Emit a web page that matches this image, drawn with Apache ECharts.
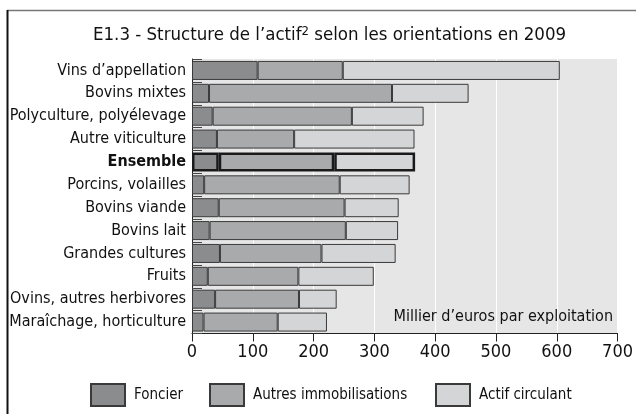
<!DOCTYPE html>
<html>
<head>
<meta charset="utf-8">
<script src="https://cdn.jsdelivr.net/npm/echarts@6/dist/echarts.min.js"></script>
<style>
html,body{margin:0;padding:0;background:#fff;}
#c{width:636px;height:414px;}
</style>
</head>
<body>
<div id="c"></div>
<script>
var categories = ["Vins d’appellation","Bovins mixtes","Polyculture, polyélevage","Autre viticulture","Ensemble","Porcins, volailles","Bovins viande","Bovins lait","Grandes cultures","Fruits","Ovins, autres herbivores","Maraîchage, horticulture"];
var foncier = [108, 28, 34, 41, 44, 20, 44, 29, 46, 26, 38, 19];
var autres = [140, 301, 229, 127, 190, 223, 207, 224, 167, 149, 138, 122];
var actif = [357, 126, 118, 198, 133, 115, 89, 86, 122, 124, 62, 81];
var seriesNames = ["Foncier","Autres immobilisations","Actif circulant"];
var xTicks = [0,100,200,300,400,500,600,700];

var FONT = '"Liberation Sans Narrow","DejaVu Sans Condensed",sans-serif';
var colors = ['#8b8c8e','#a9aaac','#d4d5d6'];
var highlight = "Ensemble";

function mk(vals){
  return vals.map(function(v,i){
    if(categories[i]===highlight){
      return {value:v, itemStyle:{borderColor:'#1a1a1a', borderWidth:2.5}};
    }
    return v;
  });
}
var data3 = [foncier, autres, actif];
var series = seriesNames.map(function(n,k){
  return {
    name:n, type:'bar', stack:'s', barWidth:19,
    data: mk(data3[k]),
    itemStyle:{color:colors[k], borderColor:'#3a3a3a', borderWidth:1},
    emphasis:{disabled:true},
    animation:false
  };
});

var legendX = [90, 209, 435];
var legends = seriesNames.map(function(n,k){
  return {
    data:[{name:n, icon:'rect'}], left:legendX[k], top:383, padding:0, itemWidth:34, itemHeight:22, itemGap:10,
    textStyle:{fontFamily:FONT, fontSize:15, color:'#111', padding:[2,0,0,4]},
    selectedMode:false
  };
});

var chart = echarts.init(document.getElementById('c'), null, {renderer:'canvas'});
chart.setOption({
  animation:false,
  title:{
    text:'E1.3 - Structure de l’actif{sup|2} selon les orientations en 2009',
    left:93, top:25, padding:0,
    textStyle:{fontFamily:FONT, fontSize:18.5, fontWeight:'normal', color:'#111',
      rich:{sup:{fontFamily:FONT, fontSize:13, verticalAlign:'top', padding:[0,0,8,0], color:'#111'}}}
  },
  legend: legends,
  grid:{left:192, right:17.5, top:59, bottom:80.5, show:true, backgroundColor:'#e6e6e7', borderWidth:0, containLabel:false},
  xAxis:{
    type:'value', min:0, max:700, interval:100,
    axisLine:{show:true, lineStyle:{color:'#222', width:1}},
    axisTick:{show:true, length:8, lineStyle:{color:'#222'}},
    axisLabel:{fontFamily:FONT, fontSize:18, color:'#111', margin:10,
      formatter:function(v){ return xTicks.indexOf(v)>=0 ? String(v) : ''; }},
    splitLine:{show:true, lineStyle:{color:'#ffffff', width:1}}
  },
  yAxis:{
    type:'category', data:categories, inverse:true,
    axisLine:{show:true, lineStyle:{color:'#222', width:1}},
    axisTick:{show:true, inside:true, length:10, lineStyle:{color:'#444'}},
    axisLabel:{fontFamily:FONT, fontSize:16, color:'#111', margin:6,
      formatter:function(v){ return v===highlight ? '{b|'+v+'}' : v; },
      rich:{b:{fontFamily:FONT, fontSize:16, fontWeight:'bold', color:'#111'}}}
  },
  series: series,
  graphic:[
    {type:'line', shape:{x1:7, y1:10.5, x2:636, y2:10.5}, style:{stroke:'#777', lineWidth:1.5}, silent:true},
    {type:'line', shape:{x1:7.5, y1:10, x2:7.5, y2:414}, style:{stroke:'#111', lineWidth:2}, silent:true},
    {type:'text', right:23, top:309, style:{text:'Millier d’euros par exploitation', fontFamily:FONT, fontSize:16, fontWeight:'normal', fill:'#111'}, silent:true, z:10}
  ]
});
</script>
</body>
</html>
